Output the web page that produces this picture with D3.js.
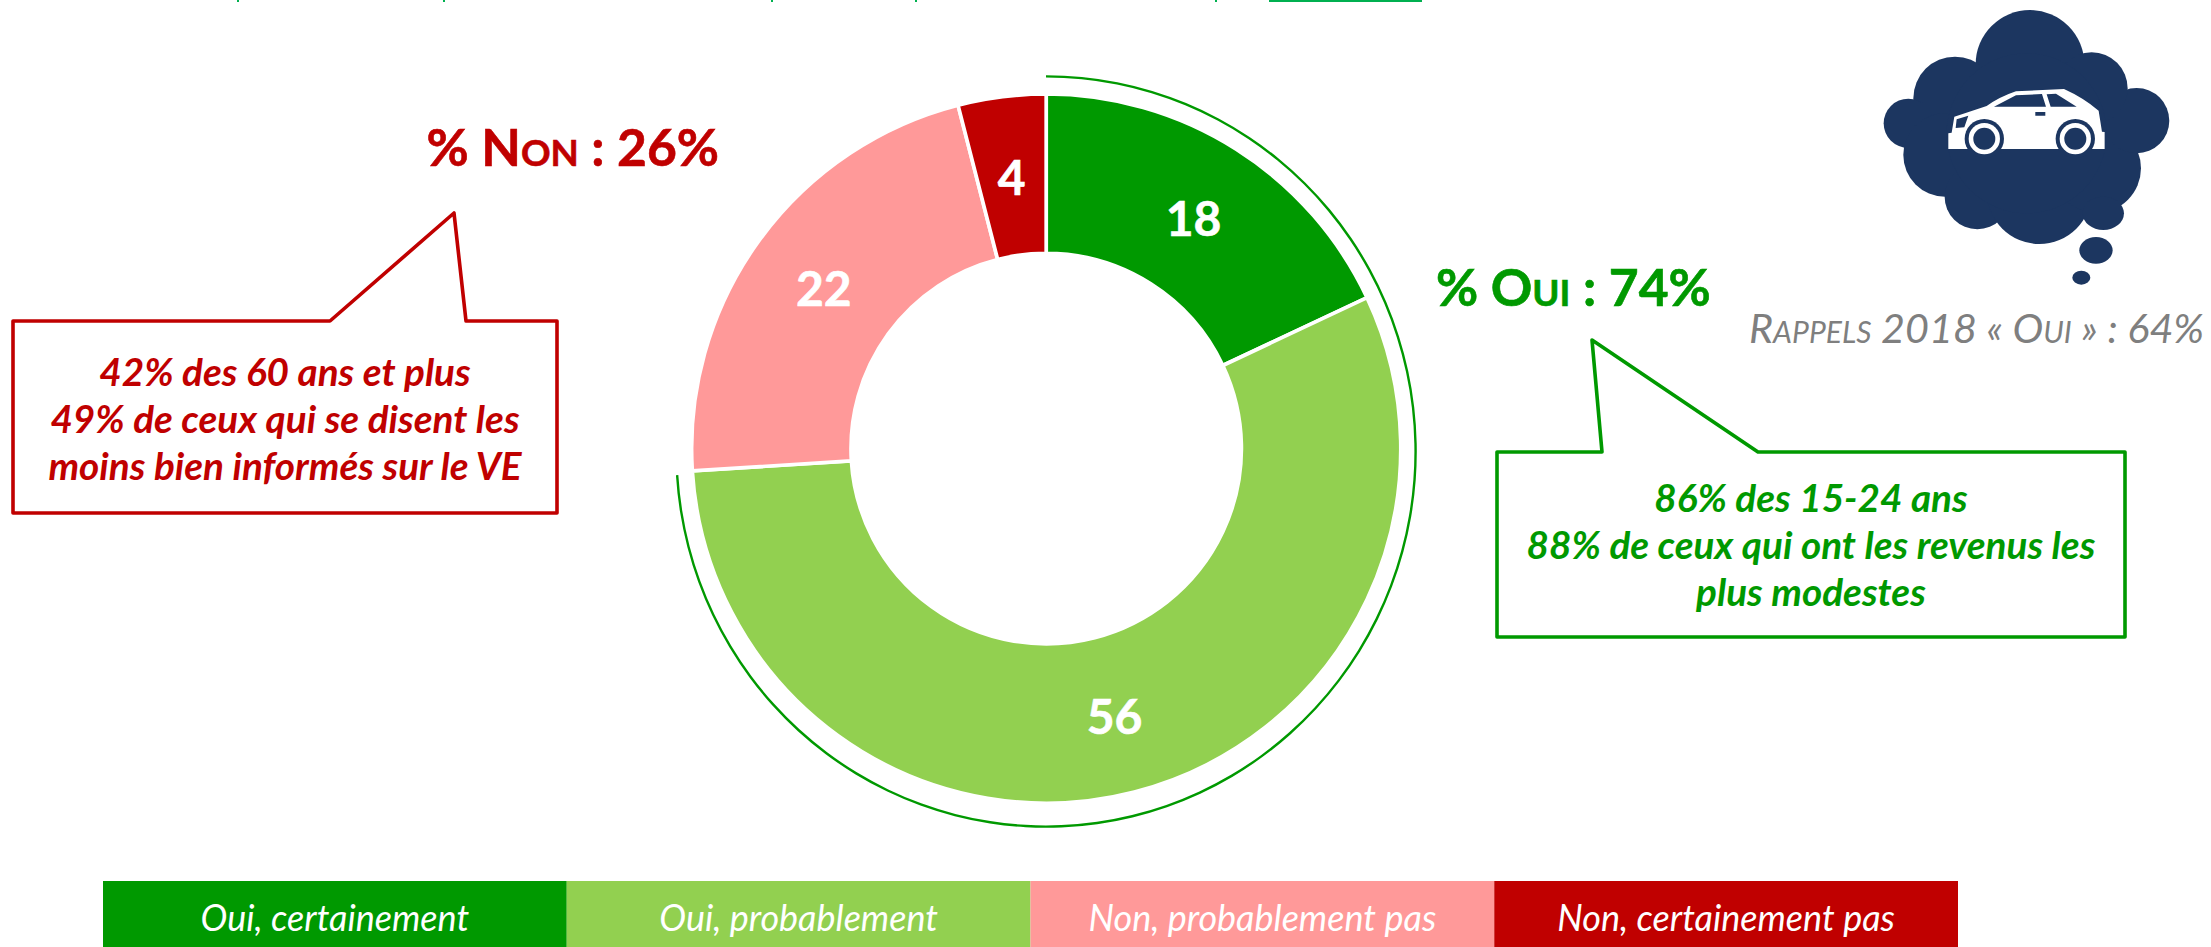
<!DOCTYPE html>
<html><head><meta charset="utf-8">
<script src="https://cdn.jsdelivr.net/npm/d3@7/dist/d3.min.js"></script>
<style>html,body{margin:0;padding:0;background:#fff;overflow:hidden}svg{display:block}text{font-family:Lato,"Open Sans",sans-serif}</style>
</head><body><svg id="c" width="2211" height="947"></svg>
<script>
const categories=["Oui, certainement","Oui, probablement","Non, probablement pas","Non, certainement pas"];
const values=[18,56,22,4];
const colors=["#009900","#92D050","#FF9999","#C00000"];
const isYes=[true,true,false,false];
const noTitle=["% ","N","ON"," : 26%"];
const yesTitle=["% ","O","UI"," : 74%"];
const noLines=["42% des 60 ans et plus","49% de ceux qui se disent les","moins bien informés sur le VE"];
const yesLines=["86% des 15-24 ans","88% de ceux qui ont les revenus les","plus modestes"];
const recallText=["R","APPELS"," 2018 « ","O","UI"," » : 64%"];
const clippedDescenders=[238,444,772,916,1216];

const svg=d3.select("#c");
const cx=1046.2,cy=448.6,R=354.6,r=195.2;
const pie=d3.pie().sort(null).value(d=>d.v);
const arcs=pie(values.map((v,i)=>({v,i})));
const arc=d3.arc().innerRadius(r).outerRadius(R);
const g=svg.append("g").attr("transform",`translate(${cx},${cy})`);
g.selectAll("path").data(arcs).join("path").attr("d",arc)
 .attr("fill",d=>colors[d.data.i]).attr("stroke","#fff").attr("stroke-width",3.7);
g.selectAll("text").data(arcs).join("text").text(d=>d.data.v)
 .attr("x",d=>arc.centroid(d)[0]).attr("y",d=>arc.centroid(d)[1]+19)
 .attr("text-anchor","middle").attr("fill","#fff").attr("font-weight",700).attr("font-size",48)
 .attr("stroke","#fff").attr("stroke-width",0.6);

const total=d3.sum(values);
const yesSum=d3.sum(values.filter((v,i)=>isYes[i]));
const angle=d3.scaleLinear().domain([0,total]).range([0,2*Math.PI]);
svg.append("path").attr("transform","translate(1046,451.5) scale(1,1.0149)")
 .attr("d",d3.arc().innerRadius(368.4).outerRadius(370.8)({startAngle:angle(0),endAngle:angle(yesSum)}))
 .attr("fill","#009900");

function smallCaps(sel,parts,big,small){
  parts.forEach(p=>{sel.append("tspan").text(p).attr("font-size",/^[A-Z]{2,}$/.test(p)?small:big);});
  return sel;
}
smallCaps(svg.append("text").attr("x",426.5).attr("y",166).attr("fill","#C00000").attr("font-weight",700).attr("stroke","#C00000").attr("stroke-width",0.6),noTitle,51.5,36.7);
smallCaps(svg.append("text").attr("x",1436).attr("y",306).attr("fill","#009900").attr("font-weight",700).attr("stroke","#009900").attr("stroke-width",0.6),yesTitle,51.5,36.7);
smallCaps(svg.append("text").attr("x",1749).attr("y",343).attr("fill","#7F7F7F").attr("font-style","italic"),recallText,41.3,30);

function callout(points,color,lines,tx,ys){
  svg.append("path").attr("d",d3.line()(points)+"Z").attr("fill","#fff").attr("stroke",color).attr("stroke-width",3.6).attr("stroke-linejoin","round");
  svg.append("g").selectAll("text").data(lines).join("text").text(d=>d)
    .attr("x",tx).attr("y",(d,i)=>ys[i]).attr("text-anchor","middle").attr("fill",color)
    .attr("font-weight",700).attr("font-style","italic").attr("font-size",38.7);
}
callout([[13,321],[330,321],[454,213],[466,321],[557,321],[557,513],[13,513]],"#C00000",noLines,285,[385.5,432.5,479.5]);
callout([[1497,452],[1602,452],[1592,340],[1758,452],[2125,452],[2125,637],[1497,637]],"#009900",yesLines,1811,[512,559,606]);

const x=d3.scaleBand().domain(categories).range([103,1958]);
const leg=svg.append("g").selectAll("g").data(categories).join("g");
leg.append("rect").attr("x",d=>x(d)).attr("y",881).attr("width",x.bandwidth()).attr("height",66).attr("fill",(d,i)=>colors[i]);
leg.append("text").text(d=>d).attr("x",d=>x(d)+x.bandwidth()/2).attr("y",931).attr("text-anchor","middle")
 .attr("fill","#fff").attr("font-style","italic").attr("font-size",36);

svg.append("rect").attr("x",1269).attr("y",0).attr("width",153).attr("height",2).attr("fill","#00B050");
svg.append("g").selectAll("rect").data(clippedDescenders).join("rect")
 .attr("x",d=>d-1).attr("y",0).attr("width",2).attr("height",2).attr("fill","#00B050");

// thought bubble icon (drawn in 3x crop units)
const ic=svg.append("g").attr("transform","translate(1840,0) scale(0.3333)");
const navy="#1C3660";
[[570,193,163],[345,295,125],[205,370,74],[315,465,125],[412,590,98],[598,575,157],[770,505,133],[890,362,98],[755,265,108],[560,400,240]]
 .forEach(c=>ic.append("circle").attr("cx",c[0]).attr("cy",c[1]).attr("r",c[2]).attr("fill",navy));
[[790,640,62,50],[768,751,50,40],[724,833,27,21]].forEach(c=>ic.append("ellipse").attr("cx",c[0]).attr("cy",c[1]).attr("rx",c[2]).attr("ry",c[3]).attr("fill",navy));
ic.append("path").attr("fill","#fff").attr("d","M325,447L325,400L335,398L343,350L440,318Q480,290 528,274L672,267Q730,293 776,332L786,395L794,396L794,447Z");
[433,706].forEach(w=>{
 ic.append("circle").attr("cx",w).attr("cy",416).attr("r",59).attr("fill",navy);
 ic.append("circle").attr("cx",w).attr("cy",416).attr("r",47).attr("fill","#fff");
 ic.append("circle").attr("cx",w).attr("cy",416).attr("r",33).attr("fill",navy);
});
ic.append("path").attr("fill",navy).attr("d","M462,320L528,286L606,282L618,320ZM620,283L648,281L710,320L632,320ZM350,358L385,347L373,382L347,384ZM586,336h30v11h-30Z");
</script></body></html>
